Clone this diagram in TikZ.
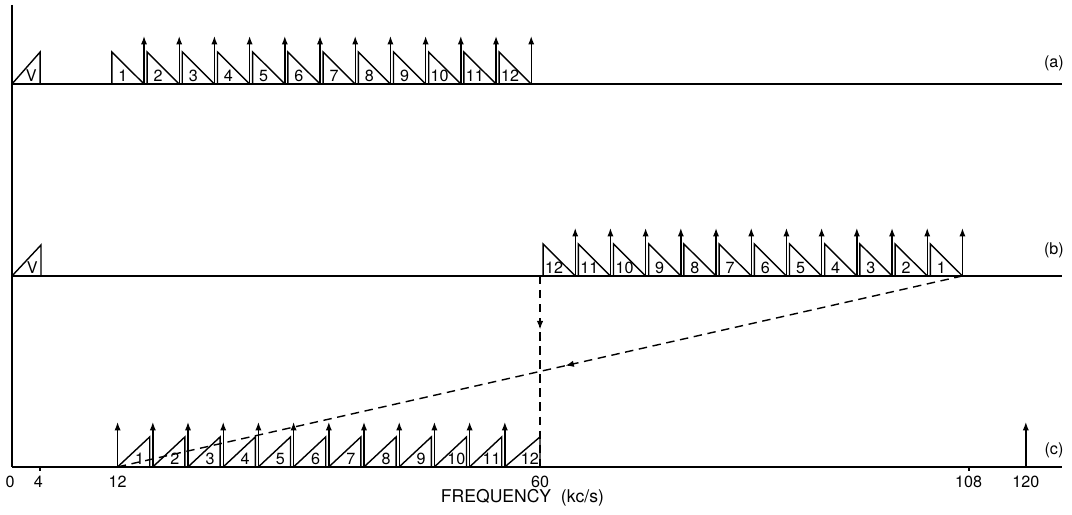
\documentclass[tikz,border=0pt]{standalone}
\usepackage{fontspec}
\setmainfont{TeX Gyre Heros}
\usepackage{tikz}
\usetikzlibrary{arrows.meta,decorations.markings}

\begin{document}
\begin{tikzpicture}[x=0.22cm, y=0.025cm, every node/.style={font=\fontsize{11.5}{13}\selectfont, inner sep=1pt}]
\tikzstyle{base}=[line width=1.3pt]
\tikzstyle{slot}=[line width=1pt, line join=miter]
\tikzstyle{carrier}=[line width=1pt,-{Latex[length=6pt,width=4.4pt]}]
\tikzstyle{conn}=[line width=1pt, dash pattern=on 6pt off 4pt]
\tikzstyle{midarrow}=[postaction={decorate}, decoration={markings, mark=at position #1 with {\arrow{Latex[length=6pt,width=4.6pt]}}}]
\useasboundingbox (-1.364,0) rectangle (120.45,515);

% axis and the three base lines: (a) 431, (b) 239, (c) 48
\draw[base] (0,510) -- (0,48);
\draw[base] (0,431) -- (119.3,431);
\draw[base] (0,239) -- (119.3,239);
\draw[base] (0,48) -- (119.3,48);

% (a) speech band V and channels 1..12
\draw[slot] (0,431) -- (3.2,463) -- (3.2,431);
\node (va) at (2.2,439) {V};
\foreach \k in {1,...,12} {
  \pgfmathsetmacro\L{4*\k+7}
  \draw[slot] (\L+0.35,431) -- (\L+0.35,463) -- (\L+4,431);
  \node (a\k) at (\L+1.6,439) {\k};
  \draw[carrier] (\L+4,431) -- ++(0,48);
}
\node (la) at (118.4,452) {(a)};

% (b) V and the inverted group 12..1
\draw[slot] (0,239) -- (3.3,270) -- (3.3,239);
\node (vb) at (2.3,247) {V};
\foreach \j in {1,...,12} {
  \pgfmathsetmacro\L{60+4*(\j-1)}
  \pgfmathtruncatemacro\n{13-\j}
  \draw[slot] (\L+0.35,239) -- (\L+0.35,271) -- (\L+4,239);
  \node (b\n) at (\L+1.6,247) {\n};
  \draw[carrier] (\L+4,239) -- ++(0,48);
}
\node (lb) at (118.4,265) {(b)};

% (c) group 1..12 on 12-60 kc
\foreach \k in {1,...,12} {
  \pgfmathsetmacro\L{12+4*(\k-1)}
  \pgfmathsetmacro\R{\k==12 ? 60 : \L+3.65}
  \draw[slot] (\L,48) -- (\R,78) -- (\R,48);
  \node (c\k) at (\R-1.15,56) {\k};
  \draw[carrier] (\L,48) -- ++(0,45);
}
\draw[carrier] (115.2,48) -- ++(0,45);
\node (lc) at (118.4,65) {(c)};

% frequency scale
\draw[base] (3.2,48) -- ++(0,-4);
\draw[base] (108.7,48) -- ++(0,-4);
\node (t0) at (-0.2,33) {0};
\node (t4) at (3.0,33) {4};
\node (t12) at (12,33) {12};
\node (t60) at (60,33) {60};
\node (t108) at (108.7,33) {108};
\node (t120) at (115.2,33) {120};
\node[font=\fontsize{12.5}{14}\selectfont] (fq) at (58,17) {FREQUENCY\ \ (kc/s)};

% modulation paths
\coordinate (b60) at (60,239);
\coordinate (c60) at (60,48);
\coordinate (b108) at (108,239);
\coordinate (c12) at (12,48);
\draw[conn, midarrow=0.28] (b60) -- (c60);
\draw[conn, midarrow=0.47] (b108) -- (c12);
\end{tikzpicture}
\end{document}
